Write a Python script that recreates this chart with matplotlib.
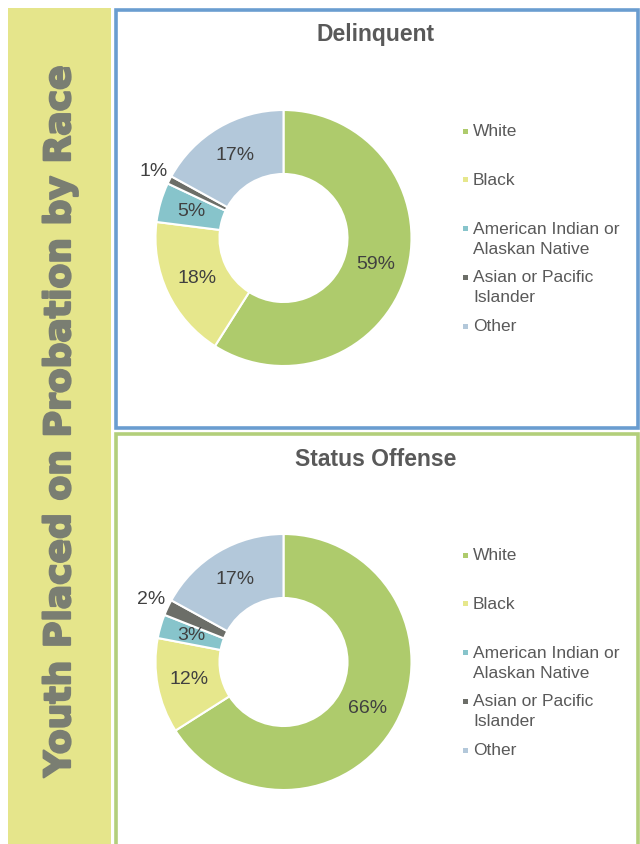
import numpy as np
import matplotlib
matplotlib.use("Agg")
import matplotlib.pyplot as plt
from matplotlib.patches import Rectangle
import matplotlib.patheffects as pe

categories = ["White", "Black", "American Indian or\nAlaskan Native",
              "Asian or Pacific\nIslander", "Other"]
delinquent = [59, 18, 5, 1, 17]
status_offense = [66, 12, 3, 2, 17]
chart_titles = ["Delinquent", "Status Offense"]
side_title = "Youth Placed on Probation by Race"

colors = ["#AECB6C", "#E6E78C", "#87C4CB", "#6C6E68", "#B3C8DA"]

W, H = 640, 844
fig = plt.figure(figsize=(W / 100, H / 100), dpi=100)
fig.patch.set_facecolor("white")

# background overlay axes in pixel coordinates
bg = fig.add_axes([0, 0, 1, 1])
bg.set_xlim(0, W)
bg.set_ylim(H, 0)
bg.axis("off")
bg.add_patch(Rectangle((8, 8), 103, 840, facecolor="#E5E58B", edgecolor="none"))
bg.add_patch(Rectangle((115.5, 9.5), 522, 418, facecolor="white",
                       edgecolor="#6A9DD0", linewidth=2.6))
bg.add_patch(Rectangle((115.5, 433.5), 522, 420, facecolor="white",
                       edgecolor="#B3CF7B", linewidth=2.6))
bg.text(60, 421, side_title, rotation=90, ha="center", va="center",
        fontsize=26, fontweight="heavy", color="#7A7E72",
        family="DejaVu Sans",
        path_effects=[pe.withStroke(linewidth=1.6, foreground="#7A7E72")])

R_PX = 128.0
AX_PX = 320.0
LIM = AX_PX / 2 / R_PX
offset = 424

for k, (title, vals) in enumerate(zip(chart_titles, [delinquent, status_offense])):
    cx, cy = 283.5, 238 + k * offset
    ax = fig.add_axes([(cx - AX_PX / 2) / W, (H - cy - AX_PX / 2) / H,
                       AX_PX / W, AX_PX / H])
    ax.set_xlim(-LIM, LIM)
    ax.set_ylim(-LIM, LIM)
    ax.set_aspect("equal")
    ax.axis("off")
    wedges, _ = ax.pie(vals, colors=colors, startangle=90, counterclock=False,
                       radius=1.0, wedgeprops=dict(width=0.5, edgecolor="white",
                                                   linewidth=1.5))
    total = float(sum(vals))
    cum = 0.0
    for v in vals:
        mid = 90 - 360 * (cum + v / 2) / total
        cum += v
        r = 0.75 if v >= 3 else 1.14
        x = r * np.cos(np.radians(mid))
        y = r * np.sin(np.radians(mid))
        ax.text(x, y, f"{v}%", ha="center", va="center", fontsize=14,
                color="#404040", family="Liberation Sans")
    bg.text(376, 35 + k * offset, title, ha="center", va="center",
            fontsize=16.5, fontweight="bold", color="#595959",
            family="Liberation Sans")
    for i, (cat, col) in enumerate(zip(categories, colors)):
        y0 = 131 + k * offset + i * 48.8
        bg.add_patch(Rectangle((463, y0 - 2.5), 5, 5, facecolor=col,
                               edgecolor="none"))
        bg.text(473, y0 - 7, cat, ha="left", va="top", fontsize=12.5,
                color="#595959", family="Liberation Sans", linespacing=1.42)

fig.savefig("out.png", dpi=100)
